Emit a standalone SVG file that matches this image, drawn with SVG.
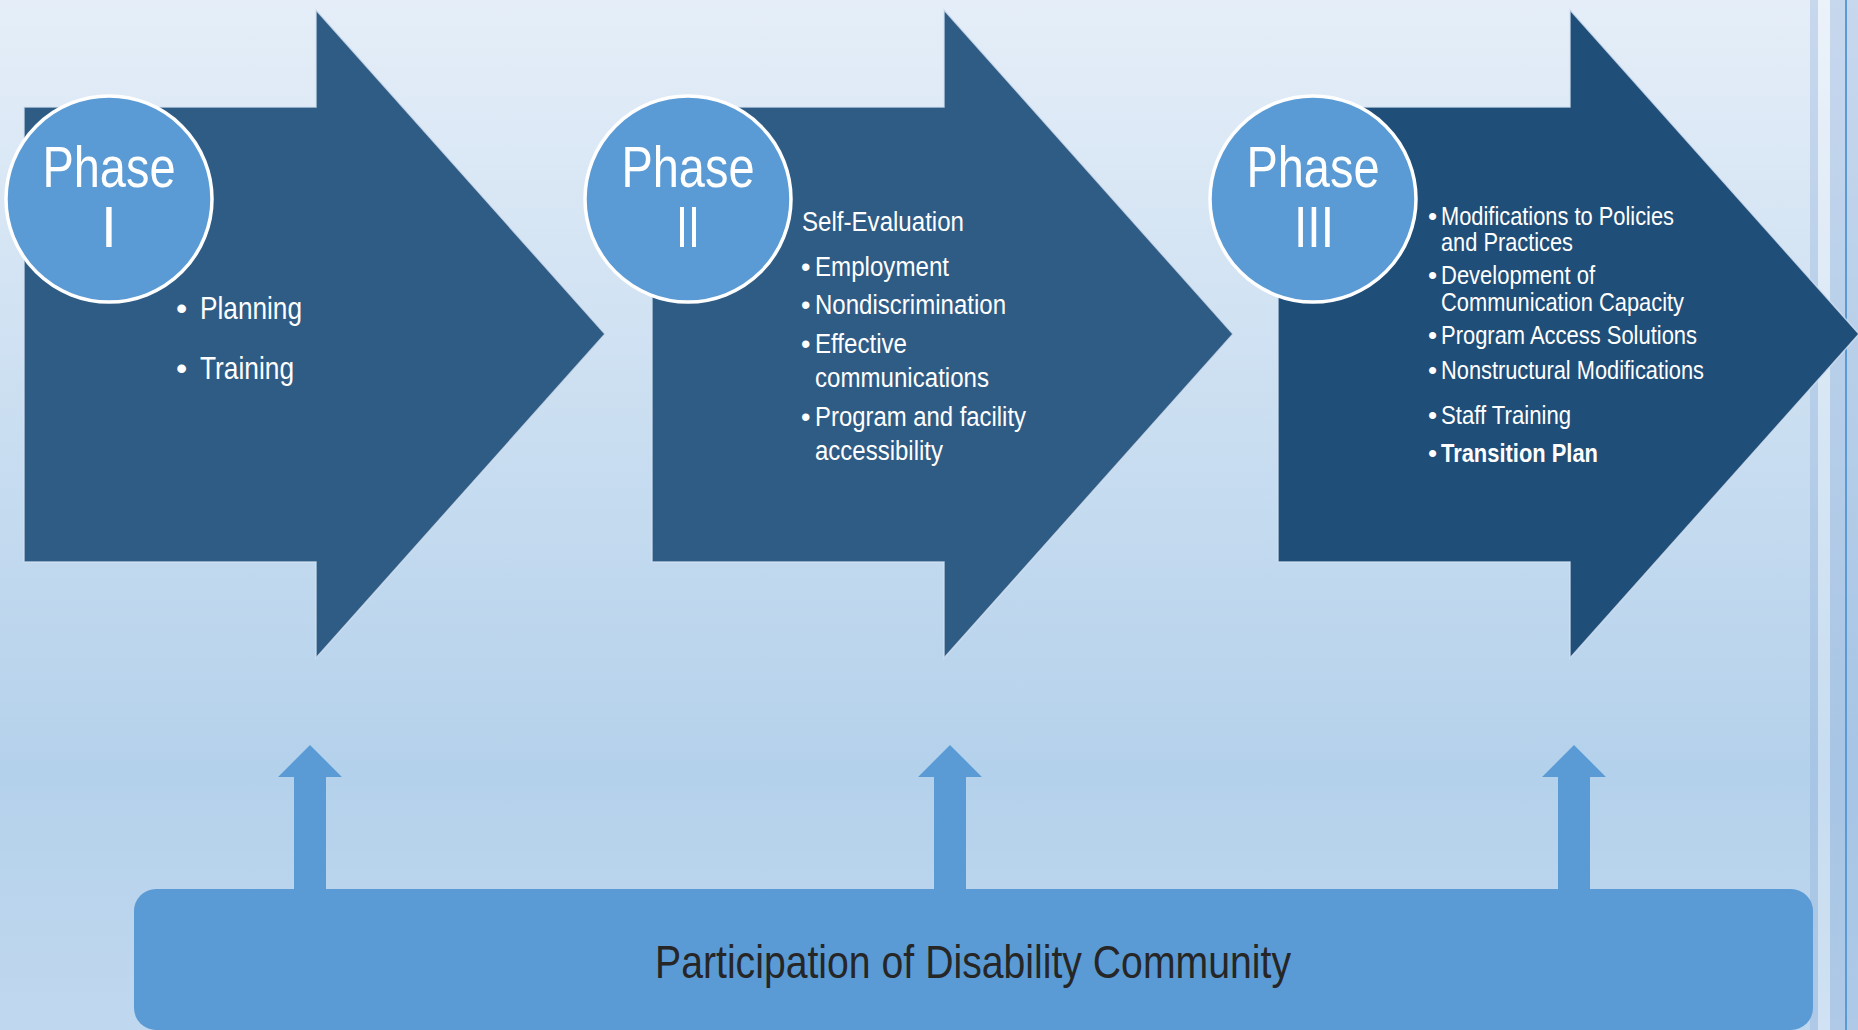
<svg xmlns="http://www.w3.org/2000/svg" width="1858" height="1030" viewBox="0 0 1858 1030">
  <defs>
    <linearGradient id="bg" x1="0" y1="0" x2="0" y2="1">
      <stop offset="0" stop-color="#e5eef8"/>
      <stop offset="0.75" stop-color="#b4d1eb"/>
      <stop offset="1" stop-color="#c0d8ef"/>
    </linearGradient>
    <style>
      .arrow { fill: #2f5c85; stroke: #d3e1f1; stroke-width: 1.5; stroke-opacity: 0.8; }
      .arrow.dark { fill: #1f4e79; }
      .circ { fill: #5b9bd5; stroke: #ffffff; stroke-width: 3.5; }
      .ph { font-family: "Liberation Sans", Arial, sans-serif; font-size: 57px; fill: #ffffff; text-anchor: middle; }
      .t { font-family: "Liberation Sans", Arial, sans-serif; fill: #ffffff; }
      .t1 { font-size: 32px; }
      .t2 { font-size: 27px; }
      .t3 { font-size: 26px; }
      .b { font-weight: bold; }
      .up { fill: #5b9bd5; }
      .comm { fill: #5b9bd5; }
      .ct { font-family: "Liberation Sans", Arial, sans-serif; font-size: 46px; fill: #262626; text-anchor: middle; }
    </style>
  </defs>

  <rect x="0" y="0" width="1858" height="1030" fill="url(#bg)"/>
  <g id="stripes">
    <rect x="1810" y="0" width="8" height="1030" fill="#8eaedb" fill-opacity="0.35"/>
    <rect x="1818" y="0" width="12" height="1030" fill="#ffffff" fill-opacity="0.25"/>
    <rect x="1830" y="0" width="15" height="1030" fill="#8eaedb" fill-opacity="0.35"/>
    <rect x="1845" y="0" width="2" height="1030" fill="#5b9bd5"/>
    <rect x="1847" y="0" width="11" height="1030" fill="#8eaedb" fill-opacity="0.35"/>
  </g>

  <g id="phase1">
    <path class="arrow" d="M24,107 H316 V10 L605,334 L316,658 V562 H24 Z"/>
    <circle class="circ" cx="109" cy="199" r="103"/>
    <text class="ph" x="109" y="187" textLength="133" lengthAdjust="spacingAndGlyphs">Phase</text>
    <text class="ph" x="109" y="247">I</text>
    <text class="t t1" x="176" y="319">•</text>
    <text class="t t1" x="200" y="319" textLength="102" lengthAdjust="spacingAndGlyphs">Planning</text>
    <text class="t t1" x="176" y="379">•</text>
    <text class="t t1" x="200" y="379" textLength="94" lengthAdjust="spacingAndGlyphs">Training</text>
  </g>

  <g id="phase2">
    <path class="arrow" d="M652,107 H944 V10 L1233,334 L944,658 V562 H652 Z"/>
    <circle class="circ" cx="688" cy="199" r="103"/>
    <text class="ph" x="688" y="187" textLength="133" lengthAdjust="spacingAndGlyphs">Phase</text>
    <text class="ph" x="688" y="247" textLength="24" lengthAdjust="spacingAndGlyphs">II</text>
    <text class="t t2" x="802" y="231" textLength="162" lengthAdjust="spacingAndGlyphs">Self-Evaluation</text>
    <text class="t t2" x="801" y="276">•</text>
    <text class="t t2" x="815" y="276" textLength="134" lengthAdjust="spacingAndGlyphs">Employment</text>
    <text class="t t2" x="801" y="314">•</text>
    <text class="t t2" x="815" y="314" textLength="191" lengthAdjust="spacingAndGlyphs">Nondiscrimination</text>
    <text class="t t2" x="801" y="353">•</text>
    <text class="t t2" x="815" y="353" textLength="92" lengthAdjust="spacingAndGlyphs">Effective</text>
    <text class="t t2" x="815" y="387" textLength="174" lengthAdjust="spacingAndGlyphs">communications</text>
    <text class="t t2" x="801" y="426">•</text>
    <text class="t t2" x="815" y="426" textLength="211" lengthAdjust="spacingAndGlyphs">Program and facility</text>
    <text class="t t2" x="815" y="460" textLength="128" lengthAdjust="spacingAndGlyphs">accessibility</text>
  </g>

  <g id="phase3">
    <path class="arrow dark" d="M1278,107 H1570 V10 L1859,334 L1570,658 V562 H1278 Z"/>
    <circle class="circ" cx="1313" cy="199" r="103"/>
    <text class="ph" x="1313" y="187" textLength="133" lengthAdjust="spacingAndGlyphs">Phase</text>
    <text class="ph" x="1314" y="247" textLength="40" lengthAdjust="spacingAndGlyphs">III</text>
    <text class="t t3" x="1428" y="225">•</text>
    <text class="t t3" x="1441" y="225" textLength="233" lengthAdjust="spacingAndGlyphs">Modifications to Policies</text>
    <text class="t t3" x="1441" y="251" textLength="132" lengthAdjust="spacingAndGlyphs">and Practices</text>
    <text class="t t3" x="1428" y="284">•</text>
    <text class="t t3" x="1441" y="284" textLength="154" lengthAdjust="spacingAndGlyphs">Development of</text>
    <text class="t t3" x="1441" y="311" textLength="243" lengthAdjust="spacingAndGlyphs">Communication Capacity</text>
    <text class="t t3" x="1428" y="344">•</text>
    <text class="t t3" x="1441" y="344" textLength="256" lengthAdjust="spacingAndGlyphs">Program Access Solutions</text>
    <text class="t t3" x="1428" y="379">•</text>
    <text class="t t3" x="1441" y="379" textLength="263" lengthAdjust="spacingAndGlyphs">Nonstructural Modifications</text>
    <text class="t t3" x="1428" y="424">•</text>
    <text class="t t3" x="1441" y="424" textLength="130" lengthAdjust="spacingAndGlyphs">Staff Training</text>
    <text class="t t3" x="1428" y="462">•</text>
    <text class="t t3 b" x="1441" y="462" textLength="157" lengthAdjust="spacingAndGlyphs">Transition Plan</text>
  </g>

  <g id="connectors">
    <path class="up" d="M294,890 V777 H278 L310,745 L342,777 H326 V890 Z"/>
    <path class="up" d="M934,890 V777 H918 L950,745 L982,777 H966 V890 Z"/>
    <path class="up" d="M1558,890 V777 H1542 L1574,745 L1606,777 H1590 V890 Z"/>
  </g>

  <g id="community">
    <rect class="comm" x="134" y="889" width="1679" height="141" rx="22" ry="22"/>
    <text class="ct" x="973" y="978" textLength="636" lengthAdjust="spacingAndGlyphs">Participation of Disability Community</text>
  </g>
</svg>
